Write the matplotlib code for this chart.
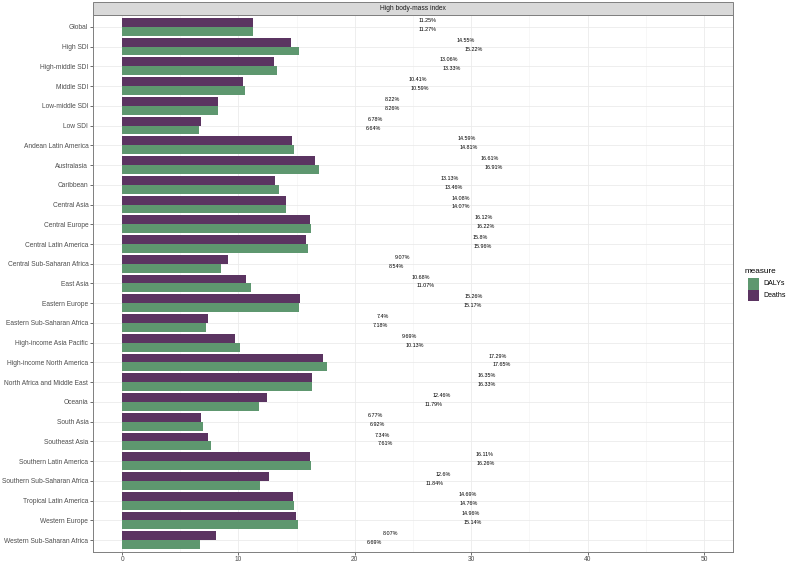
import matplotlib.pyplot as plt
from matplotlib.patches import Rectangle
import numpy as np

plt.rcParams['font.family'] = ['Liberation Sans', 'DejaVu Sans']

locations = ["Global", "High SDI", "High-middle SDI", "Middle SDI", "Low-middle SDI", "Low SDI",
             "Andean Latin America", "Australasia", "Caribbean", "Central Asia", "Central Europe",
             "Central Latin America", "Central Sub-Saharan Africa", "East Asia", "Eastern Europe",
             "Eastern Sub-Saharan Africa", "High-income Asia Pacific", "High-income North America",
             "North Africa and Middle East", "Oceania", "South Asia", "Southeast Asia",
             "Southern Latin America", "Southern Sub-Saharan Africa", "Tropical Latin America",
             "Western Europe", "Western Sub-Saharan Africa"]

deaths = [11.25, 14.55, 13.06, 10.41, 8.22, 6.78, 14.59, 16.61, 13.13, 14.08, 16.12, 15.8, 9.07,
          10.68, 15.26, 7.4, 9.69, 17.29, 16.35, 12.46, 6.77, 7.34, 16.11, 12.6, 14.69, 14.96, 8.07]
dalys = [11.27, 15.22, 13.33, 10.59, 8.26, 6.64, 14.81, 16.91, 13.46, 14.07, 16.22, 15.96, 8.54,
         11.07, 15.17, 7.18, 10.13, 17.65, 16.33, 11.79, 6.92, 7.61, 16.26, 11.84, 14.76, 15.14, 6.69]

deaths_col = '#5B3461'
dalys_col = '#5E976F'
txt_col = '#4D4D4D'

fig = plt.figure(figsize=(7.87, 5.64), dpi=100)
ax = fig.add_axes([93/787, 12/564, 640/787, 537/564])

y = np.arange(len(locations)) + 1
h = 0.45
ax.barh(y - h/2, deaths, height=h, color=deaths_col, zorder=3)
ax.barh(y + h/2, dalys, height=h, color=dalys_col, zorder=3)

for yi, d, a in zip(y, deaths, dalys):
    ax.text(d + 15, yi - h/2 - 0.1, f"{d:g}%", ha='center', va='center', fontsize=3.9, color='black')
    ax.text(a + 15, yi + h/2 - 0.1, f"{a:g}%", ha='center', va='center', fontsize=3.9, color='black')

ax.set_xlim(-2.5, 52.5)
ax.set_ylim(len(locations) + 0.6, 0.4)
ax.set_yticks(y)
ax.set_yticklabels(locations)
ax.set_xticks(np.arange(0, 51, 10))
ax.set_xticks(np.arange(5, 51, 10), minor=True)
ax.tick_params(axis='both', labelsize=4.8, colors='#333333', labelcolor=txt_col, length=2.2, width=0.5, pad=1.2)
ax.tick_params(axis='x', pad=0.6)
ax.tick_params(axis='x', which='minor', length=0)
ax.grid(which='major', color='#EBEBEB', linewidth=0.6, zorder=0)
ax.grid(which='minor', axis='x', color='#F2F2F2', linewidth=0.4, zorder=0)
for s in ax.spines.values():
    s.set_color('#7F7F7F')
    s.set_linewidth(0.7)

# facet strip
fig.add_artist(Rectangle((93/787, 549/564), 640/787, 13/564, transform=fig.transFigure,
                         facecolor='#D9D9D9', edgecolor='#7F7F7F', linewidth=0.7))
fig.text(413/787, 555.5/564, "High body-mass index", ha='center', va='center', fontsize=4.8, color='#1A1A1A')

# legend
fig.text(745/787, 293/564, "measure", ha='left', va='center', fontsize=5.9, color='black')
for i, (lab, col) in enumerate([("DALYs", dalys_col), ("Deaths", deaths_col)]):
    top = 278 + i * 11.5
    fig.add_artist(Rectangle((747.5/787, (564 - top - 11.5)/564), 11.5/787, 11.5/564,
                             transform=fig.transFigure, facecolor=col, edgecolor='none'))
    fig.text(763/787, (564 - top - 5.75)/564, lab, ha='left', va='center', fontsize=5, color='black')

fig.savefig('out.png', dpi=100)
